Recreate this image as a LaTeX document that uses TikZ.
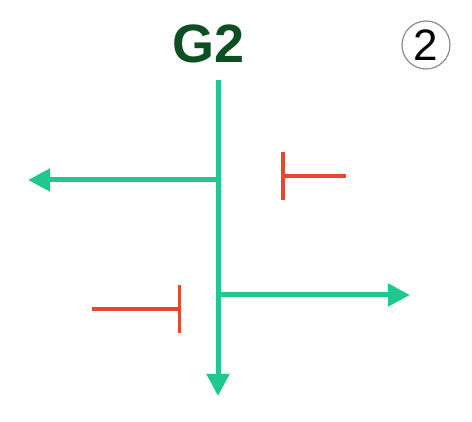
\documentclass[tikz,border=0pt]{standalone}
\usepackage{fontspec}
\setmainfont{Liberation Sans}
\usetikzlibrary{arrows.meta}
\definecolor{gnpath}{HTML}{1FC98E}
\definecolor{gnlabel}{HTML}{0E4F22}
\definecolor{inhred}{HTML}{E9472D}

\begin{document}
\begin{tikzpicture}[x=1pt, y=-1pt,
        flow/.style={draw=gnpath, line width=5pt, -{Triangle[length=22pt, width=22pt]}},
        inhib/.style={draw=inhred, line width=3.5pt, -{Bar[width=48pt, line width=3.5pt]}}]
            \useasboundingbox (0,0) rectangle (472,422);

            % Gene label and panel number
            \node[text=gnlabel, font=\fontsize{54}{54}\selectfont\bfseries] (gene) at (209,44) {G2};
            \node[circle, draw=black!45, line width=1.2pt, minimum size=48pt, inner sep=0pt,
                  font=\fontsize{44}{44}\selectfont] (panel) at (426,45) {2};

            % Main axis with branches
            \coordinate (top) at (218,80);
            \coordinate (bot) at (218,396);
            \coordinate (br1) at (218,180);
            \coordinate (br2) at (218,295);
            \coordinate (lft) at (28,180);
            \coordinate (rgt) at (410,295);

            \draw[draw=gnpath, line width=5pt] (top) -- (br1);
            \draw[flow] (br1) -- (bot);
            \draw[flow] (br1) -- (lft);
            \draw[flow] (br2) -- (rgt);

            % Inhibition marks
            \coordinate (in1) at (346,176);
            \coordinate (bar1) at (281,176);
            \coordinate (in2) at (92,309);
            \coordinate (bar2) at (181,309);

            \draw[inhib] (in1) -- (bar1);
            \draw[inhib] (in2) -- (bar2);
        \end{tikzpicture}
\end{document}
